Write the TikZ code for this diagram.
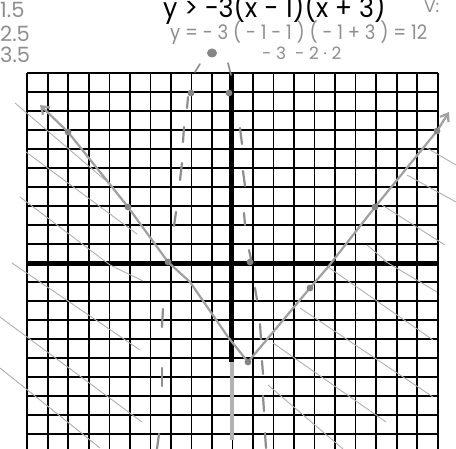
\documentclass[tikz,border=0pt]{standalone}
\usepackage{fontspec}
\setmainfont{Poppins}
\usetikzlibrary{arrows.meta}
\definecolor{pencil}{HTML}{8E8E8E}
\definecolor{hatchc}{HTML}{B0B0B0}
\definecolor{vline}{HTML}{A0A0A0}
\definecolor{dotc}{HTML}{858585}
\begin{document}
\begin{tikzpicture}[x=1pt,y=-1pt,
  gridln/.style={line width=1.7pt,black},
  axisln/.style={line width=5pt,black},
  hatchln/.style={line width=0.9pt,hatchc},
  vln/.style={line width=2.2pt,vline,line cap=round,line join=round},
  dashmark/.style={line width=2.2pt,pencil,line cap=round},
  pdot/.style={fill=dotc,draw=none},
  handtxt/.style={text=pencil,inner sep=0pt},
  title/.style={text=black,inner sep=0pt}]
\useasboundingbox (0,0) rectangle (456,449);
\fill[white] (0,0) rectangle (456,449);

% grid
\foreach \i in {0,...,20} \draw[gridln] ({27.3+20.52*\i},73.3) -- ({27.3+20.52*\i},449);
\foreach \j in {0,...,19} \draw[gridln] (27.3,{73.3+19*\j}) -- (437.7,{73.3+19*\j});
\draw[line width=2.2pt] (27.3,73.3) -- (437.7,73.3);

% axes
\coordinate (xl) at (27.3,263.3);
\coordinate (xr) at (437.7,263.3);
\coordinate (yt) at (231.5,73.3);
\coordinate (ym) at (231.5,362);
\coordinate (yb) at (231.5,440);
\draw[axisln] (xl) -- (xr);
\draw[axisln,line width=5.5pt] (yt) -- (ym);
\draw[line width=4pt,black!30] (ym) -- (yb);

% hatching
\foreach \a/\b in {{(15,103)}/{(105,180)}, {(26,152)}/{(137,234)}, {(20,197)}/{(110,265)},
  {(12,263)}/{(140,350)}, {(0,317)}/{(142,422)}, {(0,368)}/{(100,448)}, {(110,265)}/{(143,281)},
  {(427,148)}/{(456,165)}, {(407,175)}/{(456,202)}, {(382,205)}/{(445,245)}, {(367,245)}/{(387,262)},
  {(328,267)}/{(433,340)}, {(383,260)}/{(437,292)}, {(300,308)}/{(433,397)}, {(273,343)}/{(386,422)},
  {(268,385)}/{(343,449)}}
  \draw[hatchln] \a -- \b;

% V graph
\coordinate (la) at (40,105);
\coordinate (l1) at (68,132);
\coordinate (l2) at (128,207);
\coordinate (l3) at (168,262);
\coordinate (l4) at (190,282);
\coordinate (l5) at (228,337);
\coordinate (vx) at (248,362);
\coordinate (r1) at (310,288);
\coordinate (r2) at (328,267);
\coordinate (r3) at (375,207);
\coordinate (r4) at (437,131);
\coordinate (ra) at (449,112);
\draw[vln,-{Straight Barb[length=7pt,width=10pt]}] (vx) -- (l5) -- (l4) -- (l3) -- (l2) -- (l1) -- (la);
\draw[vln,-{Straight Barb[length=7pt,width=10pt]}] (vx) -- (r1) -- (r2) -- (r3) -- (r4) -- (ra);

% dashed vertical marks
\foreach \a/\b in {{(188,97)}/{(187,108)}, {(184,127)}/{(183,142)}, {(182,163)}/{(180,180)},
  {(176,212)}/{(174,226)}, {(163,309)}/{(162,327)}, {(162,368)}/{(162,386)}, {(159,434)}/{(157,449)},
  {(240,128)}/{(242,144)}, {(243,171)}/{(245,186)}, {(244,213)}/{(245,225)}, {(249,250)}/{(251,259)},
  {(255,288)}/{(257,300)}, {(260,324)}/{(261,339)}, {(262,361)}/{(263,374)}, {(263,396)}/{(264,411)},
  {(265,433)}/{(266,448)}}
  \draw[dashmark] \a -- \b;

% dots
\foreach \p in {(l1),(l2),(l3),(r1),(r3),(r4),(vx),(250,262),(191,93),(229,93)}
  \fill[pdot] \p circle (3.4);

% strokes above grid
\coordinate (s1a) at (195,72);
\coordinate (s1b) at (200,64);
\coordinate (s2a) at (228,63);
\coordinate (s2b) at (231,75);
\draw[dashmark,line width=1.6pt] (s1a) -- (s1b);
\draw[dashmark,line width=1.6pt] (s2a) -- (s2b);
\fill[dotc] (212,53) ellipse (5 and 4.5);

% texts
\node[title,anchor=base west,xscale=0.94,font=\fontsize{27}{27}\selectfont] (eq) at (163,18) {y > −3(x − 1)(x + 3)};
\node[handtxt,anchor=base west,xscale=0.9,font=\fontsize{20}{20}\selectfont] (sub) at (170,40) {y = - 3 ( - 1 - 1 ) ( - 1 + 3 ) = 12};
\node[handtxt,anchor=base west,font=\fontsize{17}{17}\selectfont] (sub2) at (262,60) {- 3 \ - 2 · 2};
\node[handtxt,anchor=base west,font=\fontsize{21}{21}\selectfont] (n1) at (0,18) {1.5};
\node[handtxt,anchor=base west,font=\fontsize{21}{21}\selectfont] (n2) at (0,42) {2.5};
\node[handtxt,anchor=base west,font=\fontsize{21}{21}\selectfont] (n3) at (0,63) {3.5};
\node[handtxt,anchor=base west,font=\fontsize{17}{17}\selectfont] (vv) at (424,13) {V:};
\end{tikzpicture}
\end{document}
